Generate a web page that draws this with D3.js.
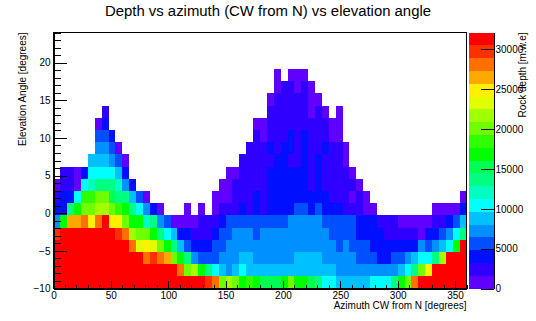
<!DOCTYPE html>
<html>
<head>
<meta charset="utf-8">
<script src="https://cdn.jsdelivr.net/npm/d3@7"></script>
<style>
    html, body { margin: 0; padding: 0; background: #fff; }
    svg { display: block; }
    text { font-family: "Liberation Sans", Arial, sans-serif; fill: #000; }
    .tick text { font-size: 10px; }
    .domain, .tick line { stroke: #000; stroke-width: 1; shape-rendering: crispEdges; }
</style>
</head>
<body>
<svg id="chart" width="536" height="321"></svg>
<script>
const titleText = "Depth vs azimuth (CW from N) vs elevation angle";
const xLabel = "Azimuth CW from N [degrees]";
const yLabel = "Elevation Angle [degrees]";
const zLabel = "Rock depth [m.w.e]";

const azimuthRange = [0, 360];
const elevationRange = [-10, 24];
const depthRange = [0, 32120];

const xMajor = [0, 50, 100, 150, 200, 250, 300, 350];
const yMajor = [-10, -5, 0, 5, 10, 15, 20];
const zMajor = [0, 5000, 10000, 15000, 20000, 25000, 30000];

const palette = [
    "#6000ff", "#3000ff", "#0010ff", "#0050ff", "#0090ff",
    "#00c0ff", "#00ffff", "#00ffc0", "#00ff80", "#00ff50",
    "#00ff00", "#30ff00", "#70ff00", "#a0ff00", "#e0ff00",
    "#fff000", "#ffa800", "#ff7000", "#ff3000", "#ff0000"
];

// rock depth per cell in hundreds of m.w.e, bottom row first, 0 = no entry
const depthRows = [
    [313,313,313,313,313,313,313,313,313,313, 313,313,313,313,313,313,313,313,313,313, 313,313,297,281,201,217,201,169,185,169, 153,153,153,169,201,169,169,153,137,104, 104,88,88,88,88,88,104,104,104,137, 169,201,281,313,313,313,313,313,313,313],
    [313,313,313,313,313,313,313,313,313,313, 313,313,313,313,313,313,313,313,281,201, 217,169,137,104,88,72,88,104,88,88, 88,88,88,88,88,88,88,88,88,88, 88,72,72,72,72,72,72,72,72,72, 88,104,137,201,249,313,313,313,313,313],
    [313,313,313,313,313,313,313,313,313,313, 313,313,313,281,297,281,265,201,169,137, 72,56,56,56,72,72,72,88,88,72, 72,72,72,72,72,88,88,88,88,72, 72,72,72,72,56,56,56,40,40,56, 56,72,88,104,104,137,217,313,313,313],
    [313,313,313,313,313,313,313,313,313,313, 313,281,233,249,233,201,169,137,88,56, 40,40,40,56,56,72,72,72,72,72, 72,72,72,72,72,72,72,72,72,72, 72,56,72,56,56,56,40,40,40,40, 40,40,40,72,56,72,88,104,169,313],
    [297,313,313,313,313,313,313,313,313,297, 281,217,201,201,169,137,104,88,40,40, 24,24,24,40,56,56,72,72,72,56, 72,72,72,72,72,72,72,72,72,72, 56,56,56,56,40,40,40,40,24,24, 24,24,24,8,40,40,56,72,104,137],
    [72,169,265,265,281,249,281,313,249,249, 201,169,169,120,137,72,56,8,8,8, 8,24,24,24,40,56,56,56,56,56, 56,56,56,56,72,72,72,72,72,56, 56,56,56,56,40,40,40,24,24,24, 8,8,8,8,8,24,24,40,56,88],
    [40,40,137,169,201,201,217,217,201,185, 169,137,104,72,40,8,0,0,0,8, 0,8,0,8,24,24,24,40,24,40, 24,40,40,40,40,56,56,40,56,40, 40,40,24,24,24,8,8,0,0,0, 0,0,0,0,0,8,8,8,8,40],
    [24,40,40,104,185,185,201,201,153,137, 137,88,56,8,0,0,0,0,0,0, 0,0,0,8,8,8,24,24,24,40, 24,40,40,40,40,40,40,40,40,40, 24,24,24,8,24,8,0,0,0,0, 0,0,0,0,0,0,0,0,0,8],
    [8,24,24,8,104,120,137,137,137,120, 72,40,0,0,0,0,0,0,0,0, 0,0,0,0,8,8,24,24,24,24, 24,40,40,40,40,40,40,24,40,24, 24,24,24,24,8,0,0,0,0,0, 0,0,0,0,0,0,0,0,0,0],
    [0,24,24,8,40,104,104,104,104,88, 40,0,0,0,0,0,0,0,0,0, 0,0,0,0,0,8,8,24,24,24, 24,40,40,40,40,40,40,24,40,24, 24,24,24,8,0,0,0,0,0,0, 0,0,0,0,0,0,0,0,0,0],
    [0,0,0,0,0,88,88,88,72,56, 8,0,0,0,0,0,0,0,0,0, 0,0,0,0,0,0,0,24,24,24, 24,24,40,40,24,24,40,24,40,24, 24,24,8,0,0,0,0,0,0,0, 0,0,0,0,0,0,0,0,0,0],
    [0,0,0,0,0,0,72,72,56,8, 0,0,0,0,0,0,0,0,0,0, 0,0,0,0,0,0,0,0,24,24, 24,40,24,40,40,24,40,24,24,40, 24,24,8,0,0,0,0,0,0,0, 0,0,0,0,0,0,0,0,0,0],
    [0,0,0,0,0,0,56,56,40,0, 0,0,0,0,0,0,0,0,0,0, 0,0,0,0,0,0,0,0,0,24, 8,24,24,24,40,24,40,24,24,24, 8,8,0,0,0,0,0,0,0,0, 0,0,0,0,0,0,0,0,0,0],
    [0,0,0,0,0,0,8,40,0,0, 0,0,0,0,0,0,0,0,0,0, 0,0,0,0,0,0,0,0,0,8, 8,24,24,24,24,24,24,24,24,24, 8,8,0,0,0,0,0,0,0,0, 0,0,0,0,0,0,0,0,0,0],
    [0,0,0,0,0,0,0,24,0,0, 0,0,0,0,0,0,0,0,0,0, 0,0,0,0,0,0,0,0,0,0, 0,24,24,24,24,24,24,8,24,8, 0,8,0,0,0,0,0,0,0,0, 0,0,0,0,0,0,0,0,0,0],
    [0,0,0,0,0,0,0,0,0,0, 0,0,0,0,0,0,0,0,0,0, 0,0,0,0,0,0,0,0,0,0, 0,8,24,24,24,24,24,8,8,0, 0,0,0,0,0,0,0,0,0,0, 0,0,0,0,0,0,0,0,0,0],
    [0,0,0,0,0,0,0,0,0,0, 0,0,0,0,0,0,0,0,0,0, 0,0,0,0,0,0,0,0,0,0, 0,0,8,24,24,8,24,8,0,0, 0,0,0,0,0,0,0,0,0,0, 0,0,0,0,0,0,0,0,0,0],
    [0,0,0,0,0,0,0,0,0,0, 0,0,0,0,0,0,0,0,0,0, 0,0,0,0,0,0,0,0,0,0, 0,0,8,0,8,8,8,0,0,0, 0,0,0,0,0,0,0,0,0,0, 0,0,0,0,0,0,0,0,0,0]
];

const nAzimuthBins = 60;
const nElevationBins = 21;
const azimuthStep = (azimuthRange[1] - azimuthRange[0]) / nAzimuthBins;
const elevationStep = (elevationRange[1] - elevationRange[0]) / nElevationBins;

const svg = d3.select("#chart");
const frame = { left: 53.5, right: 466.5, top: 32.5, bottom: 288.5 };
const bar = { left: 469, right: 493.5 };

const x = d3.scaleLinear().domain(azimuthRange).range([frame.left, frame.right]);
const y = d3.scaleLinear().domain(elevationRange).range([frame.bottom, frame.top]);
const z = d3.scaleLinear().domain(depthRange).range([frame.bottom, frame.top]);
const color = d3.scaleQuantize().domain(depthRange).range(palette);

// the cells
var cells = [];
depthRows.forEach(function (row, r) {
    row.forEach(function (v, c) {
        if (v > 0) cells.push({ c: c, r: r, depth: v * 100 });
    });
});

svg.append("g")
    .selectAll("rect")
    .data(cells)
    .join("rect")
    .attr("x", d => x(d.c * azimuthStep))
    .attr("y", d => y(elevationRange[0] + (d.r + 1) * elevationStep))
    .attr("width", d => x((d.c + 1) * azimuthStep) - x(d.c * azimuthStep))
    .attr("height", d => y(elevationRange[0] + d.r * elevationStep) - y(elevationRange[0] + (d.r + 1) * elevationStep))
    .attr("fill", d => color(d.depth))
    .attr("shape-rendering", "crispEdges");

// frame
svg.append("rect")
    .attr("x", frame.left)
    .attr("y", frame.top)
    .attr("width", frame.right - frame.left)
    .attr("height", frame.bottom - frame.top)
    .attr("fill", "none")
    .attr("stroke", "#000")
    .attr("shape-rendering", "crispEdges");

// x axis, ticks pointing inward
svg.append("g")
    .attr("transform", `translate(0,${frame.bottom})`)
    .call(d3.axisBottom(x).tickValues(d3.range(0, 361, 10)).tickSizeOuter(0).tickSizeInner(-4).tickFormat(""));
svg.append("g")
    .attr("transform", `translate(0,${frame.bottom})`)
    .call(d3.axisBottom(x).tickValues(xMajor).tickSizeOuter(0).tickSizeInner(-8).tickPadding(3.5));

// y axis
svg.append("g")
    .attr("transform", `translate(${frame.left},0)`)
    .call(d3.axisLeft(y).tickValues(d3.range(-10, 25, 1)).tickSizeOuter(0).tickSizeInner(-7).tickFormat(""));
svg.append("g")
    .attr("transform", `translate(${frame.left},0)`)
    .call(d3.axisLeft(y).tickValues(yMajor).tickSizeOuter(0).tickSizeInner(-13).tickPadding(3));

// palette
const levelWidth = (depthRange[1] - depthRange[0]) / palette.length;
svg.append("g")
    .selectAll("rect")
    .data(palette)
    .join("rect")
    .attr("x", bar.left)
    .attr("y", (d, i) => z((i + 1) * levelWidth))
    .attr("width", bar.right - bar.left)
    .attr("height", (d, i) => z(i * levelWidth) - z((i + 1) * levelWidth))
    .attr("fill", d => d)
    .attr("shape-rendering", "crispEdges");

svg.append("g")
    .attr("transform", `translate(${bar.right},0)`)
    .call(d3.axisRight(z).tickValues(zMajor).tickFormat(d3.format("d")).tickSizeOuter(0).tickSizeInner(-13).tickPadding(2));

// titles
svg.append("text")
    .attr("x", 268)
    .attr("y", 15.5)
    .attr("text-anchor", "middle")
    .style("font-size", "14.9px")
    .text(titleText);

svg.append("text")
    .attr("x", frame.right)
    .attr("y", 309)
    .attr("text-anchor", "end")
    .style("font-size", "10px")
    .text(xLabel);

svg.append("text")
    .attr("transform", `translate(26,${frame.top}) rotate(-90)`)
    .attr("text-anchor", "end")
    .style("font-size", "10px")
    .text(yLabel);

svg.append("text")
    .attr("transform", `translate(526,${frame.top}) rotate(-90)`)
    .attr("text-anchor", "end")
    .style("font-size", "10px")
    .text(zLabel);
</script>
</body>
</html>
